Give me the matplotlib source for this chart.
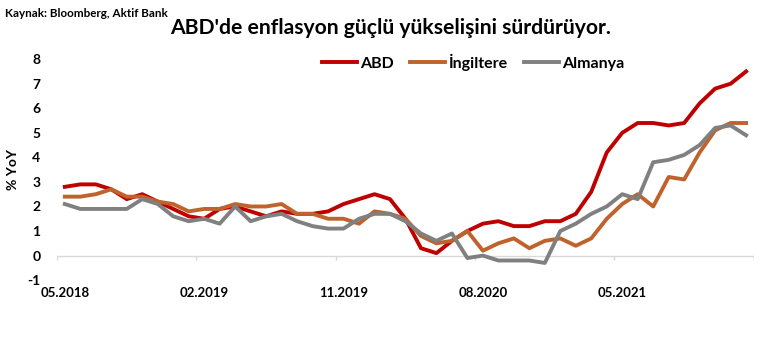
import matplotlib
matplotlib.use("Agg")
import matplotlib.pyplot as plt
import numpy as np

plt.rcParams['font.family'] = ['Lato', 'DejaVu Sans']

# monthly, 05.2018 .. 01.2022
abd = [2.8, 2.9, 2.9, 2.7, 2.3, 2.5, 2.2, 1.9, 1.6, 1.5, 1.9, 2.0,
       1.8, 1.6, 1.8, 1.7, 1.7, 1.8, 2.1, 2.3, 2.5, 2.3, 1.5, 0.3,
       0.1, 0.6, 1.0, 1.3, 1.4, 1.2, 1.2, 1.4, 1.4, 1.7, 2.6, 4.2,
       5.0, 5.4, 5.4, 5.3, 5.4, 6.2, 6.8, 7.0, 7.5]
ingiltere = [2.4, 2.4, 2.5, 2.7, 2.4, 2.4, 2.2, 2.1, 1.8, 1.9, 1.9, 2.1,
             2.0, 2.0, 2.1, 1.7, 1.7, 1.5, 1.5, 1.3, 1.8, 1.7, 1.5, 0.8,
             0.5, 0.6, 1.0, 0.2, 0.5, 0.7, 0.3, 0.6, 0.7, 0.4, 0.7, 1.5,
             2.1, 2.5, 2.0, 3.2, 3.1, 4.2, 5.1, 5.4, 5.4]
almanya = [2.1, 1.9, 1.9, 1.9, 1.9, 2.3, 2.1, 1.6, 1.4, 1.5, 1.3, 2.0,
           1.4, 1.6, 1.7, 1.4, 1.2, 1.1, 1.1, 1.5, 1.7, 1.7, 1.4, 0.9,
           0.6, 0.9, -0.1, 0.0, -0.2, -0.2, -0.2, -0.3, 1.0, 1.3, 1.7, 2.0,
           2.5, 2.3, 3.8, 3.9, 4.1, 4.5, 5.2, 5.3, 4.9]
tick_pos = [0, 9, 18, 27, 36]
tick_labels = ["05.2018", "02.2019", "11.2019", "08.2020", "05.2021"]

x = np.arange(len(abd))

fig = plt.figure(figsize=(7.82, 3.48), dpi=100)
ax = fig.add_axes([0.073, 0.195, 0.891, 0.635])

ax.plot(x, abd, color='#C00000', lw=2.8, label='ABD', solid_joinstyle='round')
ax.plot(x, ingiltere, color='#C0622B', lw=2.8, label='İngiltere', solid_joinstyle='round')
ax.plot(x, almanya, color='#808080', lw=2.8, label='Almanya', solid_joinstyle='round')

ax.set_xlim(-0.5, len(abd) - 0.5)
ax.set_ylim(-1, 8)
ax.set_yticks(range(-1, 9))
ax.set_yticklabels([str(v) for v in range(-1, 9)], fontsize=10, fontweight='bold')
ax.set_xticks(tick_pos)
ax.set_xticklabels(tick_labels, fontsize=9.5, fontweight='bold')
ax.tick_params(axis='both', length=0)
ax.tick_params(axis='y', pad=12)
ax.tick_params(axis='x', pad=5)
for s in ax.spines.values():
    s.set_visible(False)

# category axis drawn at zero
ax.axhline(0, color='#d9d9d9', lw=1, zorder=0)
bounds = np.append(np.arange(-0.5, len(abd), 9), len(abd) - 0.5)
ax.vlines(bounds, -0.2, 0, color='#d9d9d9', lw=1, zorder=0)

ax.set_ylabel('% YoY', fontsize=10, fontweight='bold', labelpad=6)

ax.legend(loc='upper center', bbox_to_anchor=(0.597, 1.09), ncol=3, frameon=False,
          prop={'size': 11.5, 'weight': 'bold'}, handlelength=2.2, handletextpad=0.2,
          columnspacing=1.0)

fig.text(0.5, 0.92, "ABD'de enflasyon güçlü yükselişini sürdürüyor.", ha='center',
         va='center', fontsize=15.2, fontweight='bold')
fig.text(0.006, 0.962, "Kaynak: Bloomberg, Aktif Bank", ha='left', va='center',
         fontsize=8.4, fontweight='bold')

plt.savefig("out.png", dpi=100)
